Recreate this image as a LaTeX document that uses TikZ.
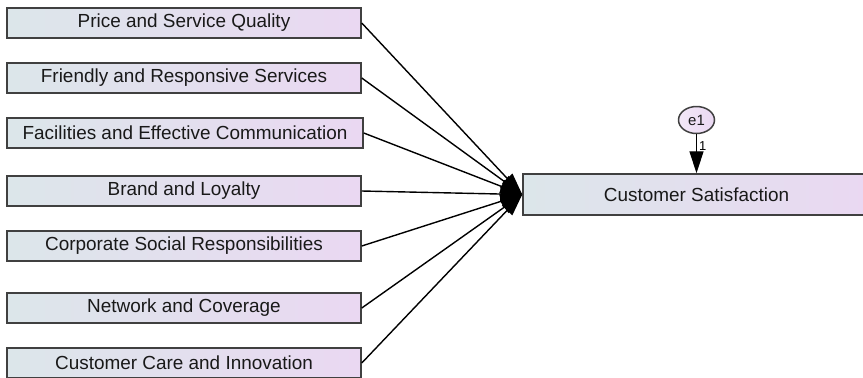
\documentclass[tikz,border=0pt]{standalone}
\usepackage{fontspec}
\setmainfont{Liberation Sans}
\usetikzlibrary{arrows.meta,shapes.geometric}

\definecolor{boxleft}{RGB}{220,230,234}
\definecolor{boxright}{RGB}{234,216,242}

\tikzset{
  obs/.style={draw=black!75, line width=1.5bp, left color=boxleft, right color=boxright,
    minimum height=30bp, inner sep=0pt, text=black!90, font=\fontsize{19}{22}\selectfont},
  err/.style={ellipse, draw=black!75, line width=1.5bp, left color=boxright!60!white, right color=boxright,
    minimum width=36bp, minimum height=27bp, inner sep=0pt, text=black!90, font=\fontsize{15}{17}\selectfont},
  path/.style={line width=1.4bp, draw=black, -{Triangle[length=22bp,width=14bp]}}
}

\begin{document}
\begin{tikzpicture}[x=1bp, y=1bp]
\useasboundingbox (0,0) rectangle (863,-377);

% predictors
\node[obs, minimum width=354bp] (price) at (184,-23) {Price and Service Quality};
\node[obs, minimum width=354bp] (friendly) at (184,-78) {Friendly and Responsive Services};
\node[obs, minimum width=356bp] (facilities) at (185,-133) {Facilities and Effective Communication};
\node[obs, minimum width=354bp] (brand) at (184,-191) {Brand and Loyalty};
\node[obs, minimum width=354bp] (csr) at (184,-246) {Corporate Social Responsibilities};
\node[obs, minimum width=354bp] (network) at (184,-308) {Network and Coverage};
\node[obs, minimum width=354bp] (care) at (184,-363) {Customer Care and Innovation};

% outcome and its error term
\node[obs, minimum width=347bp, minimum height=41bp] (satisfaction) at (696.5,-194.5) {Customer Satisfaction};
\node[err] (e1) at (696.5,-120) {e1};

\foreach \src in {price,friendly,facilities,brand,csr,network,care}
  \draw[path] (\src.east) -- (satisfaction.west);

\draw[path] (e1) -- node[pos=0.3, right, inner sep=2bp, font=\fontsize{13}{15}\selectfont] {1} (satisfaction.north);
\end{tikzpicture}
\end{document}
